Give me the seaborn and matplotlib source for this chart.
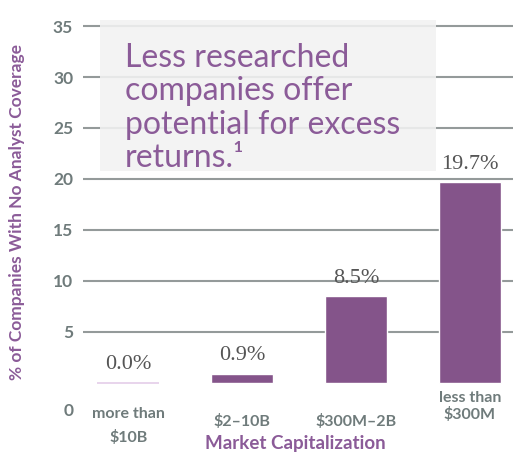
import pandas as pd
import seaborn as sns
import matplotlib.pyplot as plt
from matplotlib.patches import Rectangle
from matplotlib.transforms import blended_transform_factory

# data
caps = ["more than\n$10B", "$2–10B", "$300M–2B", "less than\n$300M"]
pct = [0.0, 0.9, 8.5, 19.7]
pct_labels = ["0.0%", "0.9%", "8.5%", "19.7%"]
yticks = [5, 10, 15, 20, 25, 30, 35]

purple = "#84548a"
txt_purple = "#8b5b98"
gray = "#6f7b7b"

sns.set_style("white")
plt.rcParams['font.family'] = ['Lato', 'DejaVu Sans']

df = pd.DataFrame({"cap": caps, "pct": pct})

fig = plt.figure(figsize=(5.15, 4.53), dpi=100)
ax = fig.add_axes([0.161, 0.108, 0.835, 0.839])
sns.barplot(data=df, x="cap", y="pct", color=purple, saturation=1,
            width=0.545, ax=ax, zorder=2)

# zero bar shows as a thin light line
ax.patches[0].set_edgecolor("#e4cde9")
ax.patches[0].set_linewidth(1.2)

ax.bar_label(ax.containers[0], labels=pct_labels, padding=6,
             fontfamily="Liberation Serif", fontsize=16, color="#555555")

ax.set_xlim(-0.4, 3.38)
ax.set_ylim(-2.09, 35.2)
ax.set_yticks(yticks)
ax.set_axisbelow(True)
ax.yaxis.grid(True, color="#949a9a", lw=1.5)
ax.tick_params(axis="y", length=0, pad=7, labelsize=12.5, labelcolor=gray)
for t in ax.get_yticklabels():
    t.set_fontweight("bold")
ax.set_xticks([])
ax.set_xlabel("")
ax.set_ylabel("")
sns.despine(ax=ax, left=True, bottom=True)

ax.text(-0.022, -0.018, "0", transform=ax.transAxes, ha="right", va="center",
        fontsize=12.5, fontweight="bold", color=gray)

# category labels
trans = blended_transform_factory(ax.transData, ax.transAxes)
label_y = [-0.058, -0.045, -0.045, -0.007]
label_ls = [1.8, 1.2, 1.2, 1.2]
for i, lab in enumerate(caps):
    ax.text(i, label_y[i], lab, transform=trans, ha="center", va="center",
            fontsize=11.5, fontweight="bold", color=gray,
            linespacing=label_ls[i])

fig.text(295 / 515, 1 - 443 / 453, "Market Capitalization", ha="center",
         va="center", fontsize=13.5, fontweight="bold", color=txt_purple)
fig.text(17 / 515, 1 - 212 / 453, "% of Companies With No Analyst Coverage",
         rotation=90, ha="center", va="center", fontsize=12.5,
         fontweight="bold", color=txt_purple)

# callout box
ax.add_patch(Rectangle((100 / 515, 1 - 171 / 453), 336 / 515, 151 / 453,
                       transform=fig.transFigure, facecolor="#f2f2f2",
                       alpha=0.88, edgecolor="none", zorder=1.5,
                       clip_on=False))
callout = ["Less researched", "companies offer", "potential for excess",
           "returns.¹"]
for i, line in enumerate(callout):
    fig.text(125 / 515, 1 - (67 + 33.3 * i) / 453, line, ha="left",
             va="baseline", fontsize=23, color=txt_purple)

fig.savefig("out.png", dpi=100)
